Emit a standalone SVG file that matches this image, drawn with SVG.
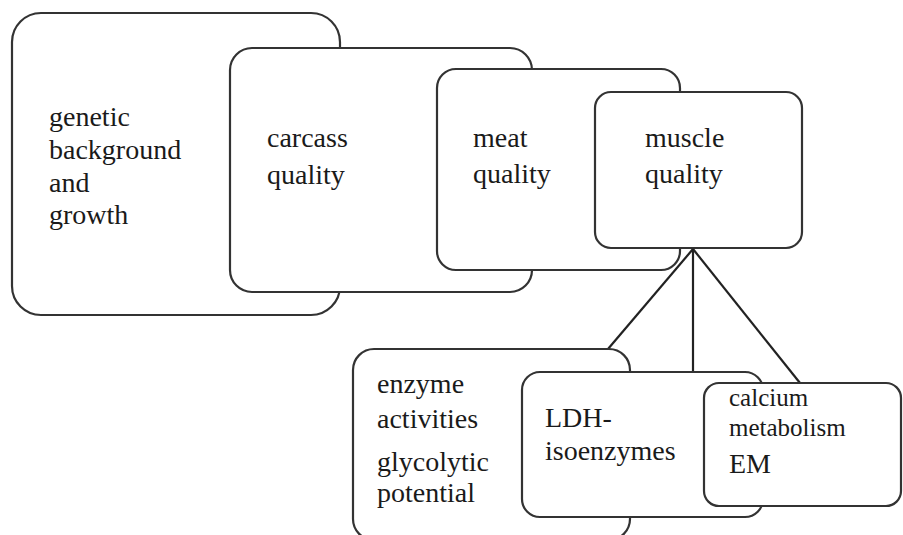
<svg xmlns="http://www.w3.org/2000/svg" width="903" height="535" viewBox="0 0 903 535">
<style>
.box{fill:#fff;stroke:#333;stroke-width:2.2}
.lbl{font-family:"Liberation Serif","Times New Roman",serif;font-size:28px;fill:#1a1a1a}
.sm{font-size:25px}
.con{stroke:#222;stroke-width:2.2;fill:none}
</style>
<rect width="903" height="535" fill="#fff"/>
<g id="node-genetic">
<rect class="box" x="12" y="13" width="328" height="302" rx="29" ry="29"/>
<text class="lbl" x="49" y="126">genetic</text>
<text class="lbl" x="49" y="159">background</text>
<text class="lbl" x="49" y="192">and</text>
<text class="lbl" x="49" y="224">growth</text>
</g>
<g id="node-carcass">
<rect class="box" x="230" y="48" width="302" height="244" rx="22" ry="22"/>
<text class="lbl" x="267" y="147">carcass</text>
<text class="lbl" x="267" y="184">quality</text>
</g>
<g id="node-meat">
<rect class="box" x="437" y="69" width="243" height="201" rx="19" ry="19"/>
<text class="lbl" x="473" y="147">meat</text>
<text class="lbl" x="473" y="183">quality</text>
</g>
<g id="node-muscle">
<rect class="box" x="595" y="92" width="207" height="156" rx="16" ry="16"/>
<text class="lbl" x="645" y="147">muscle</text>
<text class="lbl" x="645" y="183">quality</text>
</g>
<g id="connectors">
<line class="con" x1="693" y1="249" x2="608" y2="349"/>
<line class="con" x1="693" y1="249" x2="693" y2="372"/>
<line class="con" x1="693" y1="249" x2="800" y2="383"/>
</g>
<g id="node-enzyme">
<rect class="box" x="353" y="349" width="277" height="191" rx="21" ry="21"/>
<text class="lbl" x="377" y="393">enzyme</text>
<text class="lbl" x="377" y="428">activities</text>
<text class="lbl" x="377" y="471">glycolytic</text>
<text class="lbl" x="377" y="502">potential</text>
</g>
<g id="node-ldh">
<rect class="box" x="522" y="372" width="241" height="145" rx="18" ry="18"/>
<text class="lbl" x="545" y="427">LDH-</text>
<text class="lbl" x="545" y="460">isoenzymes</text>
</g>
<g id="node-calcium">
<rect class="box" x="704" y="383" width="197" height="123" rx="15" ry="15"/>
<text class="lbl sm" x="729" y="406">calcium</text>
<text class="lbl sm" x="729" y="436">metabolism</text>
<text class="lbl" x="729" y="473">EM</text>
</g>
</svg>
